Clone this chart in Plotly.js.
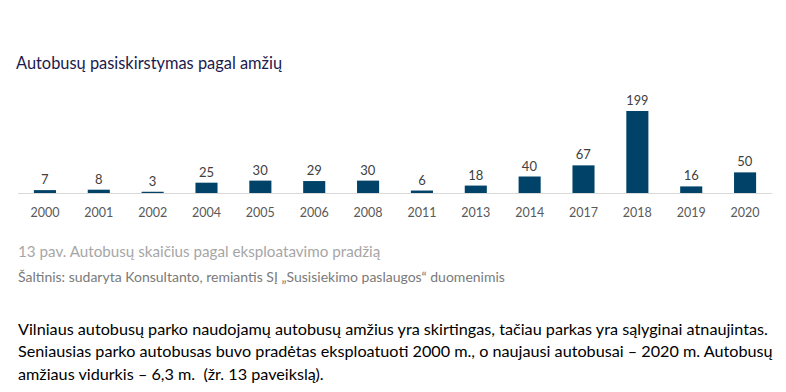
<!DOCTYPE html>
<html>
<head>
<meta charset="utf-8">
<script src="https://cdn.plot.ly/plotly-3.0.1.min.js"></script>
<style>html,body{margin:0;padding:0;background:#fff;}#chart{width:786px;height:392px;}</style>
</head>
<body>
<div id="chart"></div>
<script>
const years = ["2000","2001","2002","2004","2005","2006","2008","2011","2013","2014","2017","2018","2019","2020"];
const counts = [7, 8, 3, 25, 30, 29, 30, 6, 18, 40, 67, 199, 16, 50];

const chartTitle = "Autobusų pasiskirstymas pagal amžių";
const captionLine = "13 pav. Autobusų skaičius pagal eksploatavimo pradžią";
const sourceLine = "Šaltinis: sudaryta Konsultanto, remiantis SĮ „Susisiekimo paslaugos“ duomenimis";
const bodyLines = [
  "Vilniaus autobusų parko naudojamų autobusų amžius yra skirtingas, tačiau parkas yra sąlyginai atnaujintas.",
  "Seniausias parko autobusas buvo pradėtas eksploatuoti 2000 m., o naujausi autobusai – 2020 m. Autobusų",
  "amžiaus vidurkis – 6,3 m.  (žr. 13 paveikslą)."
];

const FONT = "Lato, 'Open Sans', sans-serif";
const L = 18, R = 14, T = 94, B = 199;
const W = 786 - L - R, H = 392 - T - B;
const px = x => (x - L) / W;
const py = y => (392 - B - y) / H;

const annotations = [
  {text: captionLine, x: px(16), y: py(251), font: {size: 15.2, color: "#a6a6a6", family: FONT}},
  {text: sourceLine, x: px(16), y: py(276), font: {size: 14, color: "#7a7a7a", family: FONT}},
].concat(bodyLines.map((t, i) => ({text: t, x: px(16), y: py(328 + i * 22.5), font: {size: 16.2, color: "#000", family: FONT}})))
 .map(a => Object.assign({xref: "paper", yref: "paper", xanchor: "left", yanchor: "middle", showarrow: false}, a));

Plotly.newPlot("chart", [{
  type: "bar",
  x: years,
  y: counts,
  marker: {color: "#014368"},
  text: counts.map(String),
  textposition: "outside",
  cliponaxis: false,
  textfont: {size: 13, color: "#404040", family: FONT},
  hoverinfo: "none"
}], {
  width: 786, height: 392,
  margin: {l: L, r: R, t: T, b: B},
  paper_bgcolor: "#fff", plot_bgcolor: "#fff",
  bargap: 0.59,
  title: {text: chartTitle, x: 16/786, xanchor: "left", xref: "container", y: 1 - 63/392, yanchor: "middle", yref: "container",
          font: {size: 16.4, color: "#1b1b4d", family: FONT}},
  xaxis: {type: "category", showline: true, linecolor: "#d9d9d9", linewidth: 1, ticks: "", showgrid: false,
          tickfont: {size: 12.5, color: "#595959", family: FONT}, ticklabelstandoff: 8, fixedrange: true},
  yaxis: {range: [0, 240], visible: false, showgrid: false, zeroline: false, fixedrange: true},
  annotations: annotations,
  showlegend: false
}, {displayModeBar: false, staticPlot: true});
</script>
</body>
</html>
